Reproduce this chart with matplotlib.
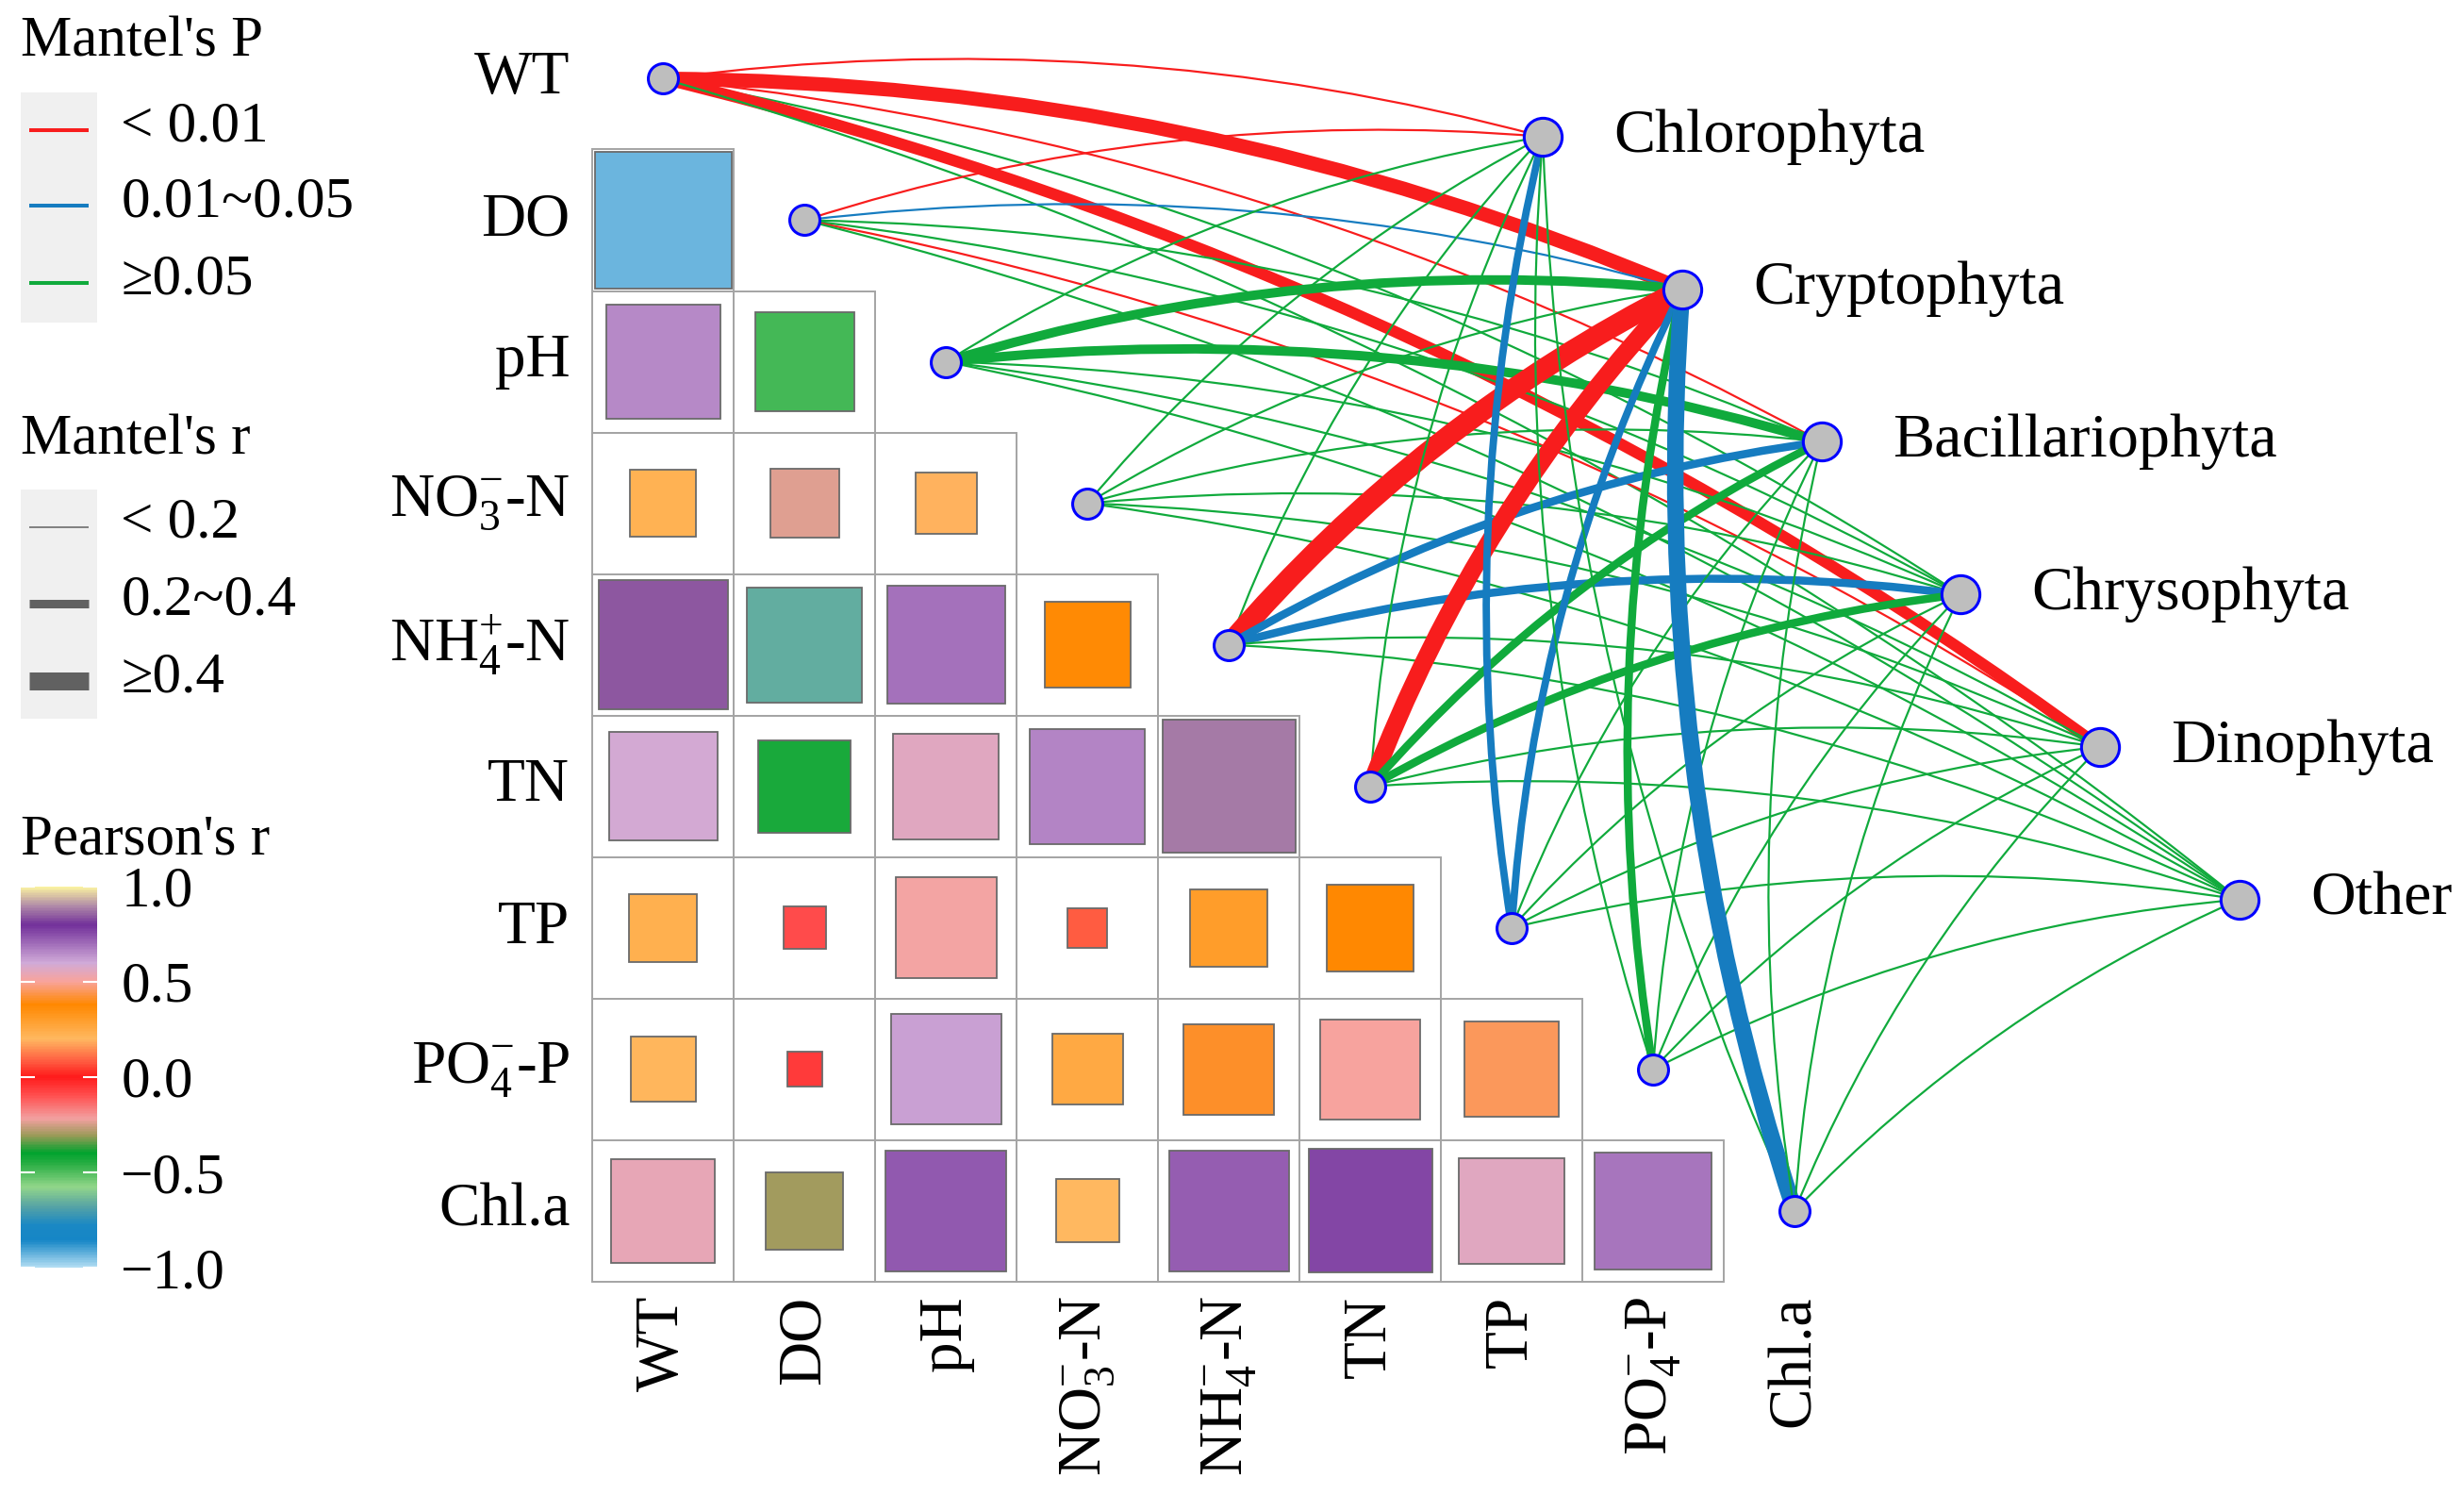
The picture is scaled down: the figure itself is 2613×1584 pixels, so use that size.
import numpy as np
import matplotlib
matplotlib.use("Agg")
import matplotlib.pyplot as plt
from matplotlib.colors import LinearSegmentedColormap, Normalize
from matplotlib.patches import Rectangle, PathPatch
from matplotlib.path import Path
from matplotlib.cm import ScalarMappable

plt.rcParams['font.family'] = ['Liberation Serif', 'DejaVu Serif']
plt.rcParams['mathtext.fontset'] = 'custom'
plt.rcParams['mathtext.rm'] = 'Liberation Serif'
plt.rcParams['mathtext.it'] = 'Liberation Serif:italic'

# ---- data ----
env = ['WT', 'DO', 'pH', 'NO3-N', 'NH4-N', 'TN', 'TP', 'PO4-P', 'Chl.a']
row_labels = ['WT', 'DO', 'pH', r'NO$_{3}^{-}$-N', r'NH$_{4}^{+}$-N', 'TN', 'TP',
              r'PO$_{4}^{-}$-P', 'Chl.a']
col_labels = ['WT', 'DO', 'pH', r'NO$_{3}^{-}$-N', r'NH$_{4}^{-}$-N', 'TN', 'TP',
              r'PO$_{4}^{-}$-P', 'Chl.a']
species = ['Chlorophyta', 'Cryptophyta', 'Bacillariophyta', 'Chrysophyta',
           'Dinophyta', 'Other']

# Pearson's r, lower triangle (row i holds columns 0..i-1)
pearson_r = [
    [],
    [-0.93],
    [0.65, -0.49],
    [0.22, -0.24, 0.19],
    [0.84, -0.66, 0.69, 0.37],
    [0.59, -0.43, 0.56, 0.66, 0.88],
    [0.23, -0.09, 0.51, 0.08, 0.30, 0.38],
    [0.21, -0.06, 0.61, 0.25, 0.41, 0.50, 0.45],
    [0.54, -0.30, 0.73, 0.20, 0.72, 0.76, 0.56, 0.68],
]

# Mantel tests: rows = env, cols = species
mantel_r = [
    [0.12, 0.50, 0.10, 0.08, 0.42, 0.06],
    [0.10, 0.12, 0.08, 0.09, 0.11, 0.05],
    [0.08, 0.36, 0.36, 0.07, 0.10, 0.06],
    [0.09, 0.07, 0.06, 0.10, 0.08, 0.05],
    [0.10, 0.70, 0.32, 0.32, 0.08, 0.07],
    [0.08, 0.61, 0.32, 0.32, 0.09, 0.06],
    [0.30, 0.30, 0.10, 0.08, 0.07, 0.05],
    [0.08, 0.32, 0.09, 0.07, 0.10, 0.06],
    [0.09, 0.57, 0.08, 0.10, 0.06, 0.07],
]
mantel_p = [
    [0.005, 0.001, 0.008, 0.20, 0.002, 0.30],
    [0.008, 0.030, 0.300, 0.40, 0.006, 0.50],
    [0.300, 0.100, 0.080, 0.50, 0.400, 0.60],
    [0.400, 0.500, 0.300, 0.20, 0.600, 0.70],
    [0.200, 0.001, 0.020, 0.03, 0.500, 0.40],
    [0.300, 0.002, 0.060, 0.07, 0.400, 0.50],
    [0.020, 0.040, 0.300, 0.50, 0.600, 0.70],
    [0.400, 0.090, 0.300, 0.60, 0.500, 0.40],
    [0.500, 0.020, 0.600, 0.30, 0.400, 0.50],
]

cbar_ticks = [-1.0, -0.5, 0.0, 0.5, 1.0]

# ---- colours ----
stops = [(-1.0, '#b0dcf2'), (-0.86, '#1686c6'), (-0.78, '#1a88c4'), (-0.68, '#58a4a4'),
         (-0.58, '#92d68a'), (-0.46, '#2aae44'), (-0.40, '#00a32e'), (-0.31, '#9a9a58'),
         (-0.22, '#f2a0a0'), (-0.10, '#ff5050'), (0.0, '#ff1a1a'), (0.08, '#ff5a40'),
         (0.20, '#ffb860'), (0.38, '#ff8800'), (0.50, '#f9a39a'), (0.60, '#d0aad8'),
         (0.80, '#72309a'), (0.90, '#b08aa8'), (1.0, '#fbf3a0')]
cmap = LinearSegmentedColormap.from_list('pr', [((v + 1) / 2, c) for v, c in stops])
norm = Normalize(-1, 1)

RED, BLUE, GREEN = '#f81d1d', '#167cc0', '#10aa3c'


def p_color(p):
    if p < 0.01:
        return RED
    if p < 0.05:
        return BLUE
    return GREEN


def r_width(r):
    return 0.72 * max(36 * r - 3, 2.2)


fig = plt.figure(figsize=(26.13, 15.84), dpi=100)
ax = fig.add_axes([0, 0, 1, 1])
ax.set_xlim(-4.689, 12.733)
ax.set_ylim(10.0, -0.556)
ax.axis('off')

n = len(env)

# heatmap cells
for i in range(n):
    for j, r in enumerate(pearson_r[i]):
        ax.add_patch(Rectangle((j - 0.5, i - 0.5), 1, 1, facecolor='white',
                               edgecolor='#a4a4a4', lw=1.4, zorder=1))
        s = np.sqrt(abs(r))
        ax.add_patch(Rectangle((j - s / 2, i - s / 2), s, s, facecolor=cmap(norm(r)),
                               edgecolor='#6a6a6a', lw=1.3, zorder=2))

# node positions
env_x = np.arange(n)
env_y = np.arange(n)
sp_idx = np.arange(len(species))
sp_x = 6.22 + 0.985 * sp_idx
sp_y = 0.41 + 1.078 * sp_idx

# mantel links
for i in range(n):
    for k in range(len(species)):
        p0 = np.array([env_x[i], env_y[i]], float)
        p1 = np.array([sp_x[k], sp_y[k]], float)
        d = p1 - p0
        ctrl = (p0 + p1) / 2 + 0.1 * np.array([d[1], -d[0]])
        path = Path([p0, ctrl, p1], [Path.MOVETO, Path.CURVE3, Path.CURVE3])
        ax.add_patch(PathPatch(path, fill=False, edgecolor=p_color(mantel_p[i][k]),
                               lw=r_width(mantel_r[i][k]), capstyle='butt', zorder=3))

ax.scatter(env_x, env_y, s=23 ** 2, c='#bebebe', edgecolors='#0000ff',
           linewidths=2.2, zorder=5)
ax.scatter(sp_x, sp_y, s=29 ** 2, c='#bebebe', edgecolors='#0000ff',
           linewidths=2.2, zorder=5)

for i in range(n):
    ax.text(-0.66, i, row_labels[i], ha='right', va='center', fontsize=47)
    ax.text(i, 8.6, col_labels[i], ha='center', va='top', rotation=90, fontsize=47)
for k, name in enumerate(species):
    ax.text(sp_x[k] + 0.5, sp_y[k], name, ha='left', va='center', fontsize=47.5)

# ---- legends (pixel-like overlay) ----
lax = fig.add_axes([0, 0, 1, 1])
lax.set_xlim(0, 1568)
lax.set_ylim(950, 0)
lax.axis('off')
lax.patch.set_visible(False)

lax.text(13, 27, "Mantel's P", ha='left', va='center', fontsize=44)
lax.add_patch(Rectangle((13, 59), 49, 146, facecolor='#f0f0f0', edgecolor='none'))
for y, c, t in zip([83, 131, 180], [RED, BLUE, GREEN], ['< 0.01', '0.01~0.05', '≥0.05']):
    lax.plot([18.5, 56.5], [y, y], color=c, lw=2.9, solid_capstyle='butt')
    lax.text(77, y - 2, t, ha='left', va='center', fontsize=44)

lax.text(13, 280, "Mantel's r", ha='left', va='center', fontsize=44)
lax.add_patch(Rectangle((13, 311), 49, 146, facecolor='#f0f0f0', edgecolor='none'))
for y, w, t in zip([335, 384, 433], [1.1, 6.5, 13.7], ['< 0.2', '0.2~0.4', '≥0.4']):
    lax.plot([18.5, 56.5], [y, y], color='#616161', lw=w, solid_capstyle='butt')
    lax.text(77, y - 2, t, ha='left', va='center', fontsize=44)

lax.text(13, 534, "Pearson's r", ha='left', va='center', fontsize=44)

cax = fig.add_axes([13.5 / 1568, 1 - 806 / 950, 48.5 / 1568, 242.5 / 950])
cb = fig.colorbar(ScalarMappable(norm=norm, cmap=cmap), cax=cax, ticks=cbar_ticks)
cb.outline.set_visible(False)
cb.ax.tick_params(direction='in', length=11, width=1.5, color='white',
                  left=True, right=True, labelsize=44, pad=18)
cb.ax.set_yticklabels([f'{t:.1f}'.replace('-', '\u2212') for t in cbar_ticks])

fig.savefig('out.png', dpi=100)
